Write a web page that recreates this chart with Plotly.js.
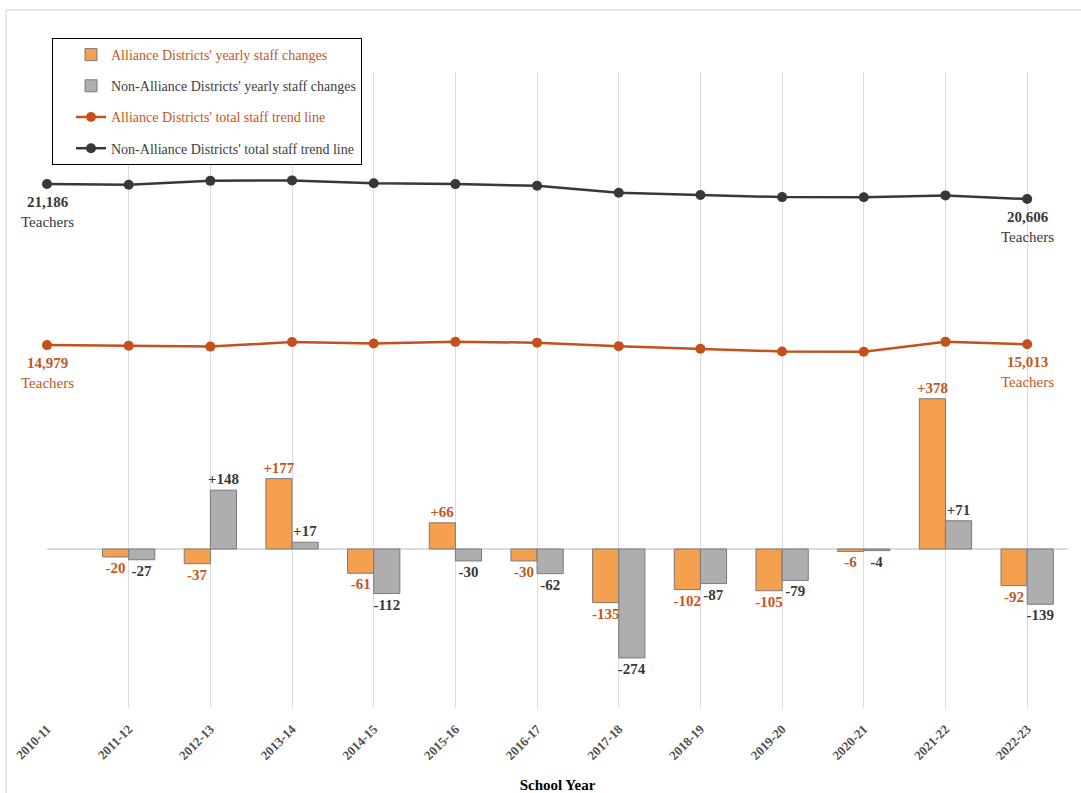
<!DOCTYPE html>
<html>
<head>
<meta charset="utf-8">
<script src="https://cdn.plot.ly/plotly-3.0.1.min.js"></script>
<style>
  html, body { margin: 0; padding: 0; background: #ffffff; }
  #chart { width: 1081px; height: 793px; }
</style>
</head>
<body>
<div id="chart"></div>
<script>
// ---- Data ----
const schoolYears = ["2010-11","2011-12","2012-13","2013-14","2014-15","2015-16","2016-17",
                     "2017-18","2018-19","2019-20","2020-21","2021-22","2022-23"];
// Yearly staff changes (no change bar for the first year)
const allianceChanges    = [null, -20, -37, 177, -61, 66, -30, -135, -102, -105, -6, 378, -92];
const nonAllianceChanges = [null, -27, 148, 17, -112, -30, -62, -274, -87, -79, -4, 71, -139];
// Total teachers trend
const allianceTotals    = [14979, 14959, 14922, 15099, 15038, 15104, 15074, 14939, 14837, 14732, 14726, 15104, 15013];
const nonAllianceTotals = [21186, 21159, 21307, 21324, 21212, 21182, 21120, 20846, 20759, 20680, 20676, 20747, 20606];
const seriesNames = [
  "Alliance Districts' yearly staff changes",
  "Non-Alliance Districts' yearly staff changes",
  "Alliance Districts' total staff trend line",
  "Non-Alliance Districts' total staff trend line"
];

// ---- Styles ----
const ORANGE_BAR = '#F5A04F';
const GRAY_BAR = '#AEAEAE';
const BAR_EDGE = '#7a7a7a';
const ORANGE_TXT = '#C5561B';
const ORANGE_LINE = '#C4501B';
const DARK = '#383838';
const SERIF = 'Liberation Serif, Times New Roman, serif';

const fmtChange = v => v === null ? '' : (v > 0 ? '+' + v : String(v));
const fmtTotal = v => v.toLocaleString('en-US');

const traces = [
  {
    type: 'bar', x: schoolYears, y: allianceChanges, name: `<span style="color:${ORANGE_TXT}">${seriesNames[0]}</span>`,
    legendgroup: 'a',
    marker: { color: ORANGE_BAR, line: { color: BAR_EDGE, width: 1 } },
    text: allianceChanges.map(fmtChange), textposition: 'outside', cliponaxis: false, constraintext: 'none',
    textfont: { family: SERIF, size: 15, color: ORANGE_TXT, weight: 'bold' },
    hoverinfo: 'x+y'
  },
  {
    type: 'bar', x: schoolYears, y: nonAllianceChanges, name: seriesNames[1],
    legendgroup: 'b',
    marker: { color: GRAY_BAR, line: { color: BAR_EDGE, width: 1 } },
    text: nonAllianceChanges.map(fmtChange), textposition: 'outside', cliponaxis: false, constraintext: 'none',
    textfont: { family: SERIF, size: 15, color: DARK, weight: 'bold' },
    hoverinfo: 'x+y'
  },
  {
    type: 'scatter', mode: 'lines+markers', x: schoolYears, y: allianceTotals, yaxis: 'y2',
    name: `<span style="color:${ORANGE_TXT}">${seriesNames[2]}</span>`, legendgroup: 'c',
    line: { color: ORANGE_LINE, width: 2.5 }, marker: { color: ORANGE_LINE, size: 10 },
    cliponaxis: false
  },
  {
    type: 'scatter', mode: 'lines+markers', x: schoolYears, y: nonAllianceTotals, yaxis: 'y2',
    name: seriesNames[3], legendgroup: 'd',
    line: { color: DARK, width: 2.5 }, marker: { color: DARK, size: 10 },
    cliponaxis: false
  }
];

const last = schoolYears.length - 1;
function endLabel(xi, val, color) {
  return {
    x: schoolYears[xi], y: val, xref: 'x', yref: 'y2',
    text: `<b>${fmtTotal(val)}</b><br>Teachers`,
    showarrow: false, xanchor: 'center', yanchor: 'top', yshift: -8,
    font: { family: SERIF, size: 15, color: color }, align: 'center'
  };
}

// paper coordinate helpers for the outer frame
const L = 47, R = 13, T = 72, B = 85, W = 1081, H = 793;
const pw = W - L - R, ph = H - T - B;
const px = v => (v - L) / pw;
const py = v => (H - B - v) / ph;

const layout = {
  width: W, height: H,
  margin: { l: L, r: R, t: T, b: B },
  paper_bgcolor: '#ffffff', plot_bgcolor: '#ffffff',
  barmode: 'group', bargap: 0.36, bargroupgap: 0,
  font: { family: SERIF, color: '#404040' },
  showlegend: true,
  legend: {
    x: px(52), y: py(38), xanchor: 'left', yanchor: 'top',
    bgcolor: '#ffffff', bordercolor: '#000000', borderwidth: 1,
    font: { family: SERIF, size: 14, color: '#404040' },
    tracegroupgap: 10, traceorder: 'grouped', indentation: 18,
    entrywidth: 300, entrywidthmode: 'pixels'
  },
  xaxis: {
    type: 'category', range: [0, 12.5],
    showgrid: true, gridcolor: '#dcdcdc', gridwidth: 1,
    showline: false, zeroline: false, ticks: '',
    tickangle: -45, ticklabelstandoff: 10,
    tickfont: { family: SERIF, size: 13, color: '#505050', weight: 'bold' },
    title: { text: '<b>School Year</b>', font: { family: SERIF, size: 15, color: '#000000' }, standoff: 18 }
  },
  yaxis: {
    range: [-400, 1200], showgrid: false, showticklabels: false, ticks: '',
    zeroline: true, zerolinecolor: '#dcdcdc', zerolinewidth: 1.5, showline: false
  },
  yaxis2: {
    range: [1000, 25500], overlaying: 'y', side: 'right',
    showgrid: false, showticklabels: false, zeroline: false, showline: false, ticks: ''
  },
  annotations: [
    endLabel(0, nonAllianceTotals[0], DARK),
    endLabel(last, nonAllianceTotals[last], DARK),
    endLabel(0, allianceTotals[0], ORANGE_TXT),
    endLabel(last, allianceTotals[last], ORANGE_TXT)
  ],
  shapes: [
    { type: 'line', xref: 'paper', yref: 'paper', x0: px(6), x1: px(1081), y0: py(10), y1: py(10),
      line: { color: '#e6e6e6', width: 2 }, layer: 'below' },
    { type: 'line', xref: 'paper', yref: 'paper', x0: px(6), x1: px(6), y0: py(10), y1: py(793),
      line: { color: '#e6e6e6', width: 2 }, layer: 'below' }
  ]
};

Plotly.newPlot('chart', traces, layout, { displayModeBar: false, staticPlot: true });
</script>
</body>
</html>
